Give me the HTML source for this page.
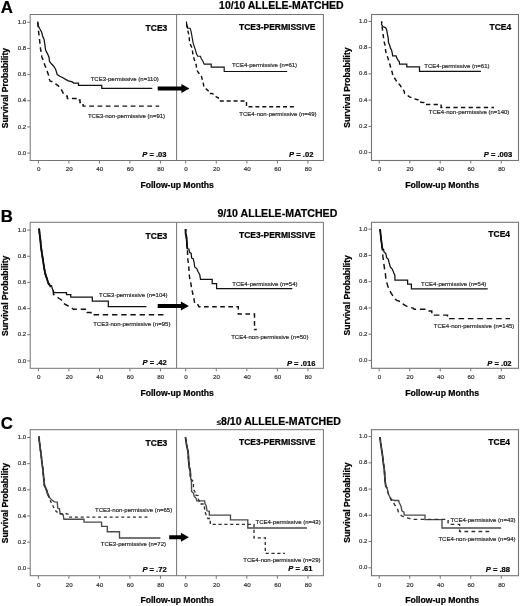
<!DOCTYPE html>
<html><head><meta charset="utf-8"><style>
html,body{margin:0;padding:0;background:#fff;}
svg{display:block;will-change:transform;}
text{font-family:"Liberation Sans", sans-serif;}
</style></head><body>
<svg width="520" height="606" viewBox="0 0 520 606" font-family='"Liberation Sans", sans-serif'>
<rect width="520" height="606" fill="#fff"/>
<rect x="30.2" y="14.50" width="293.2" height="146" fill="none" stroke="#747474" stroke-width="1"/>
<line x1="176.60" y1="14.50" x2="176.60" y2="160.50" stroke="#747474" stroke-width="1"/>
<rect x="371.5" y="14.50" width="147" height="146" fill="none" stroke="#747474" stroke-width="1.1"/>
<line x1="27.20" y1="153.10" x2="30.20" y2="153.10" stroke="#747474" stroke-width="1"/>
<text x="26.20" y="154.70" font-size="6.0" font-weight="normal" text-anchor="end" fill="#333" stroke="#333" stroke-width="0.2">0.0</text>
<line x1="27.20" y1="126.94" x2="30.20" y2="126.94" stroke="#747474" stroke-width="1"/>
<text x="26.20" y="128.54" font-size="6.0" font-weight="normal" text-anchor="end" fill="#333" stroke="#333" stroke-width="0.2">0.2</text>
<line x1="27.20" y1="100.78" x2="30.20" y2="100.78" stroke="#747474" stroke-width="1"/>
<text x="26.20" y="102.38" font-size="6.0" font-weight="normal" text-anchor="end" fill="#333" stroke="#333" stroke-width="0.2">0.4</text>
<line x1="27.20" y1="74.62" x2="30.20" y2="74.62" stroke="#747474" stroke-width="1"/>
<text x="26.20" y="76.22" font-size="6.0" font-weight="normal" text-anchor="end" fill="#333" stroke="#333" stroke-width="0.2">0.6</text>
<line x1="27.20" y1="48.46" x2="30.20" y2="48.46" stroke="#747474" stroke-width="1"/>
<text x="26.20" y="50.06" font-size="6.0" font-weight="normal" text-anchor="end" fill="#333" stroke="#333" stroke-width="0.2">0.8</text>
<line x1="27.20" y1="22.30" x2="30.20" y2="22.30" stroke="#747474" stroke-width="1"/>
<text x="26.20" y="23.90" font-size="6.0" font-weight="normal" text-anchor="end" fill="#333" stroke="#333" stroke-width="0.2">1.0</text>
<line x1="368.50" y1="152.60" x2="371.50" y2="152.60" stroke="#747474" stroke-width="1"/>
<text x="367.40" y="154.20" font-size="6.0" font-weight="normal" text-anchor="end" fill="#333" stroke="#333" stroke-width="0.2">0.0</text>
<line x1="368.50" y1="126.36" x2="371.50" y2="126.36" stroke="#747474" stroke-width="1"/>
<text x="367.40" y="127.96" font-size="6.0" font-weight="normal" text-anchor="end" fill="#333" stroke="#333" stroke-width="0.2">0.2</text>
<line x1="368.50" y1="100.12" x2="371.50" y2="100.12" stroke="#747474" stroke-width="1"/>
<text x="367.40" y="101.72" font-size="6.0" font-weight="normal" text-anchor="end" fill="#333" stroke="#333" stroke-width="0.2">0.4</text>
<line x1="368.50" y1="73.88" x2="371.50" y2="73.88" stroke="#747474" stroke-width="1"/>
<text x="367.40" y="75.48" font-size="6.0" font-weight="normal" text-anchor="end" fill="#333" stroke="#333" stroke-width="0.2">0.6</text>
<line x1="368.50" y1="47.64" x2="371.50" y2="47.64" stroke="#747474" stroke-width="1"/>
<text x="367.40" y="49.24" font-size="6.0" font-weight="normal" text-anchor="end" fill="#333" stroke="#333" stroke-width="0.2">0.8</text>
<line x1="368.50" y1="21.40" x2="371.50" y2="21.40" stroke="#747474" stroke-width="1"/>
<text x="367.40" y="23.00" font-size="6.0" font-weight="normal" text-anchor="end" fill="#333" stroke="#333" stroke-width="0.2">1.0</text>
<line x1="38.40" y1="160.50" x2="38.40" y2="163.50" stroke="#747474" stroke-width="1"/>
<text x="38.70" y="171.30" font-size="6.2" font-weight="normal" text-anchor="middle" fill="#333" stroke="#333" stroke-width="0.2">0</text>
<line x1="68.92" y1="160.50" x2="68.92" y2="163.50" stroke="#747474" stroke-width="1"/>
<text x="69.22" y="171.30" font-size="6.2" font-weight="normal" text-anchor="middle" fill="#333" stroke="#333" stroke-width="0.2">20</text>
<line x1="99.44" y1="160.50" x2="99.44" y2="163.50" stroke="#747474" stroke-width="1"/>
<text x="99.74" y="171.30" font-size="6.2" font-weight="normal" text-anchor="middle" fill="#333" stroke="#333" stroke-width="0.2">40</text>
<line x1="129.96" y1="160.50" x2="129.96" y2="163.50" stroke="#747474" stroke-width="1"/>
<text x="130.26" y="171.30" font-size="6.2" font-weight="normal" text-anchor="middle" fill="#333" stroke="#333" stroke-width="0.2">60</text>
<line x1="160.48" y1="160.50" x2="160.48" y2="163.50" stroke="#747474" stroke-width="1"/>
<text x="160.78" y="171.30" font-size="6.2" font-weight="normal" text-anchor="middle" fill="#333" stroke="#333" stroke-width="0.2">80</text>
<line x1="185.70" y1="160.50" x2="185.70" y2="163.50" stroke="#747474" stroke-width="1"/>
<text x="186.00" y="171.30" font-size="6.2" font-weight="normal" text-anchor="middle" fill="#333" stroke="#333" stroke-width="0.2">0</text>
<line x1="216.27" y1="160.50" x2="216.27" y2="163.50" stroke="#747474" stroke-width="1"/>
<text x="216.57" y="171.30" font-size="6.2" font-weight="normal" text-anchor="middle" fill="#333" stroke="#333" stroke-width="0.2">20</text>
<line x1="246.84" y1="160.50" x2="246.84" y2="163.50" stroke="#747474" stroke-width="1"/>
<text x="247.14" y="171.30" font-size="6.2" font-weight="normal" text-anchor="middle" fill="#333" stroke="#333" stroke-width="0.2">40</text>
<line x1="277.41" y1="160.50" x2="277.41" y2="163.50" stroke="#747474" stroke-width="1"/>
<text x="277.71" y="171.30" font-size="6.2" font-weight="normal" text-anchor="middle" fill="#333" stroke="#333" stroke-width="0.2">60</text>
<line x1="307.98" y1="160.50" x2="307.98" y2="163.50" stroke="#747474" stroke-width="1"/>
<text x="308.28" y="171.30" font-size="6.2" font-weight="normal" text-anchor="middle" fill="#333" stroke="#333" stroke-width="0.2">80</text>
<line x1="379.20" y1="160.50" x2="379.20" y2="163.50" stroke="#747474" stroke-width="1"/>
<text x="379.50" y="171.30" font-size="6.2" font-weight="normal" text-anchor="middle" fill="#333" stroke="#333" stroke-width="0.2">0</text>
<line x1="409.72" y1="160.50" x2="409.72" y2="163.50" stroke="#747474" stroke-width="1"/>
<text x="410.02" y="171.30" font-size="6.2" font-weight="normal" text-anchor="middle" fill="#333" stroke="#333" stroke-width="0.2">20</text>
<line x1="440.24" y1="160.50" x2="440.24" y2="163.50" stroke="#747474" stroke-width="1"/>
<text x="440.54" y="171.30" font-size="6.2" font-weight="normal" text-anchor="middle" fill="#333" stroke="#333" stroke-width="0.2">40</text>
<line x1="470.76" y1="160.50" x2="470.76" y2="163.50" stroke="#747474" stroke-width="1"/>
<text x="471.06" y="171.30" font-size="6.2" font-weight="normal" text-anchor="middle" fill="#333" stroke="#333" stroke-width="0.2">60</text>
<line x1="501.28" y1="160.50" x2="501.28" y2="163.50" stroke="#747474" stroke-width="1"/>
<text x="501.58" y="171.30" font-size="6.2" font-weight="normal" text-anchor="middle" fill="#333" stroke="#333" stroke-width="0.2">80</text>
<text x="140.40" y="188.10" font-size="8.6" font-weight="bold" text-anchor="start" fill="#000" stroke="#000" stroke-width="0.22">Follow-up Months</text>
<text x="405.20" y="187.90" font-size="8.65" font-weight="bold" text-anchor="start" fill="#000" stroke="#000" stroke-width="0.22">Follow-up Months</text>
<text x="0.00" y="0.00" font-size="8.6" font-weight="bold" text-anchor="middle" fill="#000" transform="translate(8.3,88.00) rotate(-90)" stroke="#000" stroke-width="0.22">Survival Probability</text>
<text x="0.00" y="0.00" font-size="8.6" font-weight="bold" text-anchor="middle" fill="#000" transform="translate(350.2,87.50) rotate(-90)" stroke="#000" stroke-width="0.22">Survival Probability</text>
<text x="0.80" y="12.70" font-size="16.8" font-weight="bold" text-anchor="start" fill="#000" stroke="#000" stroke-width="0.22">A</text>
<text x="219.10" y="9.30" font-size="10.47" font-weight="bold" text-anchor="start" fill="#000" stroke="#000" stroke-width="0.22">10/10 ALLELE-MATCHED</text>
<text x="167.30" y="30.80" font-size="8.5" font-weight="bold" text-anchor="end" fill="#000" stroke="#000" stroke-width="0.22">TCE3</text>
<text x="315.50" y="29.90" font-size="8.5" font-weight="bold" text-anchor="end" fill="#000" stroke="#000" stroke-width="0.22">TCE3-PERMISSIVE</text>
<text x="511.20" y="29.60" font-size="8.5" font-weight="bold" text-anchor="end" fill="#000" stroke="#000" stroke-width="0.22">TCE4</text>
<text x="166.50" y="156.80" font-size="7.6" font-weight="bold" text-anchor="end" fill="#000" stroke="#000" stroke-width="0.2"><tspan font-style="italic">P</tspan> = .03</text>
<text x="313.40" y="156.85" font-size="7.6" font-weight="bold" text-anchor="end" fill="#000" stroke="#000" stroke-width="0.2"><tspan font-style="italic">P</tspan> = .02</text>
<text x="512.30" y="157.05" font-size="7.6" font-weight="bold" text-anchor="end" fill="#000" stroke="#000" stroke-width="0.2"><tspan font-style="italic">P</tspan> = .003</text>
<polygon points="157.7,86.4 181.4,86.4 181.4,83.9 189.4,88.4 181.4,92.9 181.4,90.4 157.7,90.4" fill="#000"/>
<polyline points="37.70,21.50 38.20,25.70 39.80,28.80 41.70,32.20 42.50,35.70 44.00,39.20 44.80,44.20 45.60,50.00 47.90,54.60 49.10,57.70 49.50,61.50 51.40,63.80 53.70,66.20 55.60,69.20 56.60,72.30 57.20,74.60 59.80,76.20 62.90,77.70 66.00,79.60 68.50,80.80 72.20,81.90 73.70,83.10 78.50,83.10 78.50,85.40 101.80,85.40 101.80,88.40 152.30,88.40" fill="none" stroke="#111" stroke-width="1.25" stroke-linejoin="miter" stroke-linecap="butt"/>
<polyline points="37.70,21.50 38.20,27.20 38.50,30.70 39.00,35.30 39.40,38.00 40.50,48.80 41.40,53.10 41.80,56.90 42.90,59.60 44.10,63.10 45.20,66.20 46.80,69.20 47.50,72.30 48.70,75.40 49.10,78.80 50.20,81.20 51.80,81.50 53.30,82.70 56.00,84.20 58.30,85.80 60.60,88.50 62.50,91.50 63.50,94.20 65.40,95.80 67.30,96.20 67.30,98.50 77.70,98.50 77.70,100.00 80.00,100.00 80.00,102.50 83.10,102.50 83.10,106.10 159.20,106.10" fill="none" stroke="#111" stroke-width="1.45" stroke-linejoin="miter" stroke-linecap="butt" stroke-dasharray="4.8 3.5" stroke-dashoffset="7.33"/>
<text x="90.70" y="80.70" font-size="6.0" font-weight="normal" text-anchor="start" fill="#222" stroke="#2a2a2a" stroke-width="0.18">TCE3-permissive (n=110)</text>
<text x="87.90" y="117.80" font-size="6.0" font-weight="normal" text-anchor="start" fill="#222" stroke="#2a2a2a" stroke-width="0.18">TCE3-non-permissive (n=91)</text>
<polyline points="186.50,21.50 186.60,25.30 187.60,26.50 187.60,28.20 190.10,28.20 190.80,30.30 191.60,34.20 192.40,38.80 193.20,43.40 194.30,46.50 195.40,50.00 196.50,53.80 197.70,56.20 200.40,56.20 201.20,58.50 202.70,60.80 204.20,64.20 211.20,64.20 211.20,67.10 224.20,67.10 224.20,71.50 287.20,71.50" fill="none" stroke="#111" stroke-width="1.15" stroke-linejoin="miter" stroke-linecap="butt"/>
<polyline points="186.50,21.50 187.00,28.00 187.80,30.30 188.50,33.40 189.30,36.00 189.30,39.50 189.70,42.60 190.50,44.90 192.00,47.60 192.40,50.30 192.80,53.80 193.50,56.10 194.20,59.60 195.40,61.90 196.20,65.00 196.50,67.70 197.30,70.80 198.50,72.70 200.40,74.60 201.50,76.50 202.30,79.60 203.10,81.50 203.60,85.30 204.50,87.70 206.30,89.10 208.20,90.60 209.10,93.50 212.00,93.50 214.40,94.90 216.30,96.80 218.30,97.80 219.20,101.00 246.50,101.00 246.50,106.80 294.60,106.80" fill="none" stroke="#111" stroke-width="1.4" stroke-linejoin="miter" stroke-linecap="butt" stroke-dasharray="4.0 2.9" stroke-dashoffset="4.61"/>
<text x="231.90" y="67.00" font-size="6.0" font-weight="normal" text-anchor="start" fill="#222" stroke="#2a2a2a" stroke-width="0.18">TCE4-permissive (n=61)</text>
<text x="239.30" y="116.10" font-size="6.0" font-weight="normal" text-anchor="start" fill="#222" stroke="#2a2a2a" stroke-width="0.18">TCE4-non-permissive (n=49)</text>
<polyline points="381.60,21.50 381.60,24.50 383.20,26.80 385.50,27.60 386.60,29.50 387.40,34.20 388.20,38.00 388.50,42.60 389.70,45.30 390.50,48.40 391.60,50.30 392.40,53.80 392.60,55.80 396.10,55.80 396.80,58.10 398.40,60.80 399.30,61.50 399.50,64.20 406.80,64.20 406.80,66.90 419.50,66.90 419.50,71.30 480.90,71.30" fill="none" stroke="#111" stroke-width="1.25" stroke-linejoin="miter" stroke-linecap="butt"/>
<polyline points="381.60,21.50 382.40,29.20 382.80,32.20 383.20,35.30 383.90,40.30 384.30,42.60 385.50,46.50 385.50,49.90 386.20,53.40 387.20,55.80 388.40,59.60 389.20,62.70 390.30,65.80 390.70,68.50 392.20,72.30 392.60,74.60 393.40,76.90 394.90,78.50 396.80,81.50 398.00,83.10 400.30,85.40 401.50,87.70 404.10,91.10 404.60,93.50 407.00,94.90 409.40,96.80 411.80,97.80 414.20,98.80 417.60,99.70 420.50,100.00 420.90,102.30 423.80,102.60 424.20,104.50 441.10,104.50 441.10,107.50 494.00,107.50" fill="none" stroke="#111" stroke-width="1.45" stroke-linejoin="miter" stroke-linecap="butt" stroke-dasharray="4.3 3.3" stroke-dashoffset="2.63"/>
<text x="424.30" y="67.80" font-size="6.0" font-weight="normal" text-anchor="start" fill="#222" stroke="#2a2a2a" stroke-width="0.18">TCE4-permissive (n=61)</text>
<text x="428.80" y="114.45" font-size="6.0" font-weight="normal" text-anchor="start" fill="#222" stroke="#2a2a2a" stroke-width="0.18">TCE4-non-permissive (n=140)</text>
<rect x="30.2" y="222.30" width="293.2" height="146" fill="none" stroke="#747474" stroke-width="1"/>
<line x1="176.60" y1="222.30" x2="176.60" y2="368.30" stroke="#747474" stroke-width="1"/>
<rect x="371.5" y="222.30" width="147" height="146" fill="none" stroke="#747474" stroke-width="1.1"/>
<line x1="27.20" y1="360.90" x2="30.20" y2="360.90" stroke="#747474" stroke-width="1"/>
<text x="26.20" y="362.50" font-size="6.0" font-weight="normal" text-anchor="end" fill="#333" stroke="#333" stroke-width="0.2">0.0</text>
<line x1="27.20" y1="334.74" x2="30.20" y2="334.74" stroke="#747474" stroke-width="1"/>
<text x="26.20" y="336.34" font-size="6.0" font-weight="normal" text-anchor="end" fill="#333" stroke="#333" stroke-width="0.2">0.2</text>
<line x1="27.20" y1="308.58" x2="30.20" y2="308.58" stroke="#747474" stroke-width="1"/>
<text x="26.20" y="310.18" font-size="6.0" font-weight="normal" text-anchor="end" fill="#333" stroke="#333" stroke-width="0.2">0.4</text>
<line x1="27.20" y1="282.42" x2="30.20" y2="282.42" stroke="#747474" stroke-width="1"/>
<text x="26.20" y="284.02" font-size="6.0" font-weight="normal" text-anchor="end" fill="#333" stroke="#333" stroke-width="0.2">0.6</text>
<line x1="27.20" y1="256.26" x2="30.20" y2="256.26" stroke="#747474" stroke-width="1"/>
<text x="26.20" y="257.86" font-size="6.0" font-weight="normal" text-anchor="end" fill="#333" stroke="#333" stroke-width="0.2">0.8</text>
<line x1="27.20" y1="230.10" x2="30.20" y2="230.10" stroke="#747474" stroke-width="1"/>
<text x="26.20" y="231.70" font-size="6.0" font-weight="normal" text-anchor="end" fill="#333" stroke="#333" stroke-width="0.2">1.0</text>
<line x1="368.50" y1="360.40" x2="371.50" y2="360.40" stroke="#747474" stroke-width="1"/>
<text x="367.40" y="362.00" font-size="6.0" font-weight="normal" text-anchor="end" fill="#333" stroke="#333" stroke-width="0.2">0.0</text>
<line x1="368.50" y1="334.16" x2="371.50" y2="334.16" stroke="#747474" stroke-width="1"/>
<text x="367.40" y="335.76" font-size="6.0" font-weight="normal" text-anchor="end" fill="#333" stroke="#333" stroke-width="0.2">0.2</text>
<line x1="368.50" y1="307.92" x2="371.50" y2="307.92" stroke="#747474" stroke-width="1"/>
<text x="367.40" y="309.52" font-size="6.0" font-weight="normal" text-anchor="end" fill="#333" stroke="#333" stroke-width="0.2">0.4</text>
<line x1="368.50" y1="281.68" x2="371.50" y2="281.68" stroke="#747474" stroke-width="1"/>
<text x="367.40" y="283.28" font-size="6.0" font-weight="normal" text-anchor="end" fill="#333" stroke="#333" stroke-width="0.2">0.6</text>
<line x1="368.50" y1="255.44" x2="371.50" y2="255.44" stroke="#747474" stroke-width="1"/>
<text x="367.40" y="257.04" font-size="6.0" font-weight="normal" text-anchor="end" fill="#333" stroke="#333" stroke-width="0.2">0.8</text>
<line x1="368.50" y1="229.20" x2="371.50" y2="229.20" stroke="#747474" stroke-width="1"/>
<text x="367.40" y="230.80" font-size="6.0" font-weight="normal" text-anchor="end" fill="#333" stroke="#333" stroke-width="0.2">1.0</text>
<line x1="38.40" y1="368.30" x2="38.40" y2="371.30" stroke="#747474" stroke-width="1"/>
<text x="38.70" y="379.10" font-size="6.2" font-weight="normal" text-anchor="middle" fill="#333" stroke="#333" stroke-width="0.2">0</text>
<line x1="68.92" y1="368.30" x2="68.92" y2="371.30" stroke="#747474" stroke-width="1"/>
<text x="69.22" y="379.10" font-size="6.2" font-weight="normal" text-anchor="middle" fill="#333" stroke="#333" stroke-width="0.2">20</text>
<line x1="99.44" y1="368.30" x2="99.44" y2="371.30" stroke="#747474" stroke-width="1"/>
<text x="99.74" y="379.10" font-size="6.2" font-weight="normal" text-anchor="middle" fill="#333" stroke="#333" stroke-width="0.2">40</text>
<line x1="129.96" y1="368.30" x2="129.96" y2="371.30" stroke="#747474" stroke-width="1"/>
<text x="130.26" y="379.10" font-size="6.2" font-weight="normal" text-anchor="middle" fill="#333" stroke="#333" stroke-width="0.2">60</text>
<line x1="160.48" y1="368.30" x2="160.48" y2="371.30" stroke="#747474" stroke-width="1"/>
<text x="160.78" y="379.10" font-size="6.2" font-weight="normal" text-anchor="middle" fill="#333" stroke="#333" stroke-width="0.2">80</text>
<line x1="185.70" y1="368.30" x2="185.70" y2="371.30" stroke="#747474" stroke-width="1"/>
<text x="186.00" y="379.10" font-size="6.2" font-weight="normal" text-anchor="middle" fill="#333" stroke="#333" stroke-width="0.2">0</text>
<line x1="216.27" y1="368.30" x2="216.27" y2="371.30" stroke="#747474" stroke-width="1"/>
<text x="216.57" y="379.10" font-size="6.2" font-weight="normal" text-anchor="middle" fill="#333" stroke="#333" stroke-width="0.2">20</text>
<line x1="246.84" y1="368.30" x2="246.84" y2="371.30" stroke="#747474" stroke-width="1"/>
<text x="247.14" y="379.10" font-size="6.2" font-weight="normal" text-anchor="middle" fill="#333" stroke="#333" stroke-width="0.2">40</text>
<line x1="277.41" y1="368.30" x2="277.41" y2="371.30" stroke="#747474" stroke-width="1"/>
<text x="277.71" y="379.10" font-size="6.2" font-weight="normal" text-anchor="middle" fill="#333" stroke="#333" stroke-width="0.2">60</text>
<line x1="307.98" y1="368.30" x2="307.98" y2="371.30" stroke="#747474" stroke-width="1"/>
<text x="308.28" y="379.10" font-size="6.2" font-weight="normal" text-anchor="middle" fill="#333" stroke="#333" stroke-width="0.2">80</text>
<line x1="379.20" y1="368.30" x2="379.20" y2="371.30" stroke="#747474" stroke-width="1"/>
<text x="379.50" y="379.10" font-size="6.2" font-weight="normal" text-anchor="middle" fill="#333" stroke="#333" stroke-width="0.2">0</text>
<line x1="409.72" y1="368.30" x2="409.72" y2="371.30" stroke="#747474" stroke-width="1"/>
<text x="410.02" y="379.10" font-size="6.2" font-weight="normal" text-anchor="middle" fill="#333" stroke="#333" stroke-width="0.2">20</text>
<line x1="440.24" y1="368.30" x2="440.24" y2="371.30" stroke="#747474" stroke-width="1"/>
<text x="440.54" y="379.10" font-size="6.2" font-weight="normal" text-anchor="middle" fill="#333" stroke="#333" stroke-width="0.2">40</text>
<line x1="470.76" y1="368.30" x2="470.76" y2="371.30" stroke="#747474" stroke-width="1"/>
<text x="471.06" y="379.10" font-size="6.2" font-weight="normal" text-anchor="middle" fill="#333" stroke="#333" stroke-width="0.2">60</text>
<line x1="501.28" y1="368.30" x2="501.28" y2="371.30" stroke="#747474" stroke-width="1"/>
<text x="501.58" y="379.10" font-size="6.2" font-weight="normal" text-anchor="middle" fill="#333" stroke="#333" stroke-width="0.2">80</text>
<text x="140.40" y="395.90" font-size="8.6" font-weight="bold" text-anchor="start" fill="#000" stroke="#000" stroke-width="0.22">Follow-up Months</text>
<text x="405.20" y="395.70" font-size="8.65" font-weight="bold" text-anchor="start" fill="#000" stroke="#000" stroke-width="0.22">Follow-up Months</text>
<text x="0.00" y="0.00" font-size="8.6" font-weight="bold" text-anchor="middle" fill="#000" transform="translate(8.3,295.80) rotate(-90)" stroke="#000" stroke-width="0.22">Survival Probability</text>
<text x="0.00" y="0.00" font-size="8.6" font-weight="bold" text-anchor="middle" fill="#000" transform="translate(350.2,295.30) rotate(-90)" stroke="#000" stroke-width="0.22">Survival Probability</text>
<text x="0.80" y="221.80" font-size="16.8" font-weight="bold" text-anchor="start" fill="#000" stroke="#000" stroke-width="0.22">B</text>
<text x="217.40" y="217.10" font-size="10.58" font-weight="bold" text-anchor="start" fill="#000" stroke="#000" stroke-width="0.22">9/10 ALLELE-MATCHED</text>
<text x="167.30" y="238.60" font-size="8.5" font-weight="bold" text-anchor="end" fill="#000" stroke="#000" stroke-width="0.22">TCE3</text>
<text x="315.50" y="237.70" font-size="8.5" font-weight="bold" text-anchor="end" fill="#000" stroke="#000" stroke-width="0.22">TCE3-PERMISSIVE</text>
<text x="510.10" y="237.40" font-size="8.5" font-weight="bold" text-anchor="end" fill="#000" stroke="#000" stroke-width="0.22">TCE4</text>
<text x="166.80" y="365.40" font-size="7.6" font-weight="bold" text-anchor="end" fill="#000" stroke="#000" stroke-width="0.2"><tspan font-style="italic">P</tspan> = .42</text>
<text x="315.40" y="366.10" font-size="7.6" font-weight="bold" text-anchor="end" fill="#000" stroke="#000" stroke-width="0.2"><tspan font-style="italic">P</tspan> = .016</text>
<text x="511.60" y="366.40" font-size="7.6" font-weight="bold" text-anchor="end" fill="#000" stroke="#000" stroke-width="0.2"><tspan font-style="italic">P</tspan> = .02</text>
<polygon points="157.7,303.9 180.9,303.9 180.9,301.4 188.9,305.9 180.9,310.4 180.9,307.9 157.7,307.9" fill="#000"/>
<polyline points="39.10,228.60 39.60,233.90 40.30,239.20 40.90,245.80 41.60,251.10 42.60,257.70 43.60,264.30 44.30,268.60 45.30,273.90 46.60,277.80 48.30,283.10 49.60,285.10" fill="none" stroke="#111" stroke-width="1.9" stroke-linejoin="miter" stroke-linecap="butt"/>
<polyline points="39.10,228.60 39.60,233.90 40.30,239.20 40.90,245.80 41.60,251.10 42.60,257.70 43.60,264.30 44.30,268.60 45.30,273.90 46.60,277.80 48.30,283.10 49.60,285.10 51.60,285.80 52.20,288.40 53.20,290.40 53.90,292.50 66.50,292.50 66.50,294.70 70.80,294.70 70.80,297.10 92.30,297.10 92.30,301.10 108.30,301.10 108.30,306.60 146.40,306.60" fill="none" stroke="#111" stroke-width="1.25" stroke-linejoin="miter" stroke-linecap="butt"/>
<polyline points="39.10,228.60 39.60,233.90 40.30,239.20 40.90,245.80 41.60,251.10 42.60,257.70 43.60,264.30 44.30,268.60 45.30,273.90 46.60,277.80 48.30,283.10 49.60,285.10 50.60,287.70 53.20,291.00 53.50,294.30 55.80,296.30 59.20,298.50 62.30,300.50 63.80,303.50 67.30,305.50 70.40,307.00 73.50,309.30 87.30,309.30 87.30,312.40 91.00,312.40 91.00,314.80 166.50,314.80" fill="none" stroke="#111" stroke-width="1.45" stroke-linejoin="miter" stroke-linecap="butt" stroke-dasharray="5.4 3.8" stroke-dashoffset="0.42"/>
<text x="99.10" y="297.25" font-size="6.0" font-weight="normal" text-anchor="start" fill="#222" stroke="#2a2a2a" stroke-width="0.18">TCE3-permissive (n=104)</text>
<text x="93.20" y="325.60" font-size="6.0" font-weight="normal" text-anchor="start" fill="#222" stroke="#2a2a2a" stroke-width="0.18">TCE3-non-permissive (n=95)</text>
<polyline points="185.60,229.00 185.60,233.90 186.30,235.90 186.80,241.20 187.30,248.80" fill="none" stroke="#111" stroke-width="1.8" stroke-linejoin="miter" stroke-linecap="butt"/>
<polyline points="185.60,229.00 185.60,233.90 186.30,235.90 186.80,241.20 187.30,248.80 188.90,249.10 189.60,252.40 191.20,253.40 191.60,258.00 193.20,258.70 194.20,263.00 194.70,267.00 196.80,268.60 198.00,271.50 199.70,274.40 200.50,279.40 212.20,279.40 212.20,283.50 216.60,283.50 216.60,288.60 292.30,288.60" fill="none" stroke="#111" stroke-width="1.25" stroke-linejoin="miter" stroke-linecap="butt"/>
<polyline points="185.60,229.00 185.60,233.90 186.30,235.90 186.80,241.20 187.30,248.80 187.60,253.70 187.90,260.30 188.60,264.60 189.00,270.30 189.40,276.00 189.80,279.30 190.60,281.80 191.40,286.80 191.80,289.20 192.70,293.40 193.10,295.80 193.90,298.30 194.30,301.20 194.70,303.30 196.50,303.50 198.00,304.90 198.90,306.80 238.30,306.80 238.30,314.00 254.50,314.00 254.50,329.50 256.80,329.50" fill="none" stroke="#111" stroke-width="1.45" stroke-linejoin="miter" stroke-linecap="butt" stroke-dasharray="4.7 3.4" stroke-dashoffset="2.91"/>
<text x="232.30" y="286.40" font-size="6.0" font-weight="normal" text-anchor="start" fill="#222" stroke="#2a2a2a" stroke-width="0.18">TCE4-permissive (n=54)</text>
<text x="231.20" y="338.85" font-size="6.0" font-weight="normal" text-anchor="start" fill="#222" stroke="#2a2a2a" stroke-width="0.18">TCE4-non-permissive (n=50)</text>
<polyline points="380.10,229.00 380.60,234.60 381.30,240.50 382.30,248.40" fill="none" stroke="#111" stroke-width="1.8" stroke-linejoin="miter" stroke-linecap="butt"/>
<polyline points="380.10,229.00 380.60,234.60 381.30,240.50 382.30,248.40 383.60,249.40 383.90,251.70 385.90,253.70 386.60,257.70 388.20,259.00 389.20,263.00 390.30,267.00 392.40,269.40 394.00,273.60 394.90,275.20 394.90,280.20 407.60,280.20 407.60,284.10 411.40,284.10 411.40,288.90 487.70,288.90" fill="none" stroke="#111" stroke-width="1.25" stroke-linejoin="miter" stroke-linecap="butt"/>
<polyline points="380.10,229.00 380.60,234.60 381.30,240.50 382.30,248.40 382.90,256.40 383.60,262.00 384.50,268.60 385.40,273.60 385.80,278.50 386.60,281.80 387.80,285.90 389.10,289.20 390.70,292.50 392.40,295.00 394.00,298.30 396.90,300.40 401.50,302.00 403.50,304.50 406.40,306.20 410.30,307.40 413.20,308.10 414.10,309.30 427.60,309.30 429.00,311.00 431.80,311.00 431.80,315.10 447.50,315.10 447.50,318.60 510.00,318.60" fill="none" stroke="#111" stroke-width="1.45" stroke-linejoin="miter" stroke-linecap="butt" stroke-dasharray="5.6 3.8" stroke-dashoffset="2.60"/>
<text x="421.10" y="286.35" font-size="6.0" font-weight="normal" text-anchor="start" fill="#222" stroke="#2a2a2a" stroke-width="0.18">TCE4-permissive (n=54)</text>
<text x="433.80" y="327.65" font-size="6.0" font-weight="normal" text-anchor="start" fill="#222" stroke="#2a2a2a" stroke-width="0.18">TCE4-non-permissive (n=145)</text>
<rect x="30.2" y="429.70" width="293.2" height="146" fill="none" stroke="#747474" stroke-width="1"/>
<line x1="176.60" y1="429.70" x2="176.60" y2="575.70" stroke="#747474" stroke-width="1"/>
<rect x="371.5" y="429.70" width="147" height="146" fill="none" stroke="#747474" stroke-width="1.1"/>
<line x1="27.20" y1="568.30" x2="30.20" y2="568.30" stroke="#747474" stroke-width="1"/>
<text x="26.20" y="569.90" font-size="6.0" font-weight="normal" text-anchor="end" fill="#333" stroke="#333" stroke-width="0.2">0.0</text>
<line x1="27.20" y1="542.14" x2="30.20" y2="542.14" stroke="#747474" stroke-width="1"/>
<text x="26.20" y="543.74" font-size="6.0" font-weight="normal" text-anchor="end" fill="#333" stroke="#333" stroke-width="0.2">0.2</text>
<line x1="27.20" y1="515.98" x2="30.20" y2="515.98" stroke="#747474" stroke-width="1"/>
<text x="26.20" y="517.58" font-size="6.0" font-weight="normal" text-anchor="end" fill="#333" stroke="#333" stroke-width="0.2">0.4</text>
<line x1="27.20" y1="489.82" x2="30.20" y2="489.82" stroke="#747474" stroke-width="1"/>
<text x="26.20" y="491.42" font-size="6.0" font-weight="normal" text-anchor="end" fill="#333" stroke="#333" stroke-width="0.2">0.6</text>
<line x1="27.20" y1="463.66" x2="30.20" y2="463.66" stroke="#747474" stroke-width="1"/>
<text x="26.20" y="465.26" font-size="6.0" font-weight="normal" text-anchor="end" fill="#333" stroke="#333" stroke-width="0.2">0.8</text>
<line x1="27.20" y1="437.50" x2="30.20" y2="437.50" stroke="#747474" stroke-width="1"/>
<text x="26.20" y="439.10" font-size="6.0" font-weight="normal" text-anchor="end" fill="#333" stroke="#333" stroke-width="0.2">1.0</text>
<line x1="368.50" y1="567.80" x2="371.50" y2="567.80" stroke="#747474" stroke-width="1"/>
<text x="367.40" y="569.40" font-size="6.0" font-weight="normal" text-anchor="end" fill="#333" stroke="#333" stroke-width="0.2">0.0</text>
<line x1="368.50" y1="541.56" x2="371.50" y2="541.56" stroke="#747474" stroke-width="1"/>
<text x="367.40" y="543.16" font-size="6.0" font-weight="normal" text-anchor="end" fill="#333" stroke="#333" stroke-width="0.2">0.2</text>
<line x1="368.50" y1="515.32" x2="371.50" y2="515.32" stroke="#747474" stroke-width="1"/>
<text x="367.40" y="516.92" font-size="6.0" font-weight="normal" text-anchor="end" fill="#333" stroke="#333" stroke-width="0.2">0.4</text>
<line x1="368.50" y1="489.08" x2="371.50" y2="489.08" stroke="#747474" stroke-width="1"/>
<text x="367.40" y="490.68" font-size="6.0" font-weight="normal" text-anchor="end" fill="#333" stroke="#333" stroke-width="0.2">0.6</text>
<line x1="368.50" y1="462.84" x2="371.50" y2="462.84" stroke="#747474" stroke-width="1"/>
<text x="367.40" y="464.44" font-size="6.0" font-weight="normal" text-anchor="end" fill="#333" stroke="#333" stroke-width="0.2">0.8</text>
<line x1="368.50" y1="436.60" x2="371.50" y2="436.60" stroke="#747474" stroke-width="1"/>
<text x="367.40" y="438.20" font-size="6.0" font-weight="normal" text-anchor="end" fill="#333" stroke="#333" stroke-width="0.2">1.0</text>
<line x1="38.40" y1="575.70" x2="38.40" y2="578.70" stroke="#747474" stroke-width="1"/>
<text x="38.70" y="586.50" font-size="6.2" font-weight="normal" text-anchor="middle" fill="#333" stroke="#333" stroke-width="0.2">0</text>
<line x1="68.92" y1="575.70" x2="68.92" y2="578.70" stroke="#747474" stroke-width="1"/>
<text x="69.22" y="586.50" font-size="6.2" font-weight="normal" text-anchor="middle" fill="#333" stroke="#333" stroke-width="0.2">20</text>
<line x1="99.44" y1="575.70" x2="99.44" y2="578.70" stroke="#747474" stroke-width="1"/>
<text x="99.74" y="586.50" font-size="6.2" font-weight="normal" text-anchor="middle" fill="#333" stroke="#333" stroke-width="0.2">40</text>
<line x1="129.96" y1="575.70" x2="129.96" y2="578.70" stroke="#747474" stroke-width="1"/>
<text x="130.26" y="586.50" font-size="6.2" font-weight="normal" text-anchor="middle" fill="#333" stroke="#333" stroke-width="0.2">60</text>
<line x1="160.48" y1="575.70" x2="160.48" y2="578.70" stroke="#747474" stroke-width="1"/>
<text x="160.78" y="586.50" font-size="6.2" font-weight="normal" text-anchor="middle" fill="#333" stroke="#333" stroke-width="0.2">80</text>
<line x1="185.70" y1="575.70" x2="185.70" y2="578.70" stroke="#747474" stroke-width="1"/>
<text x="186.00" y="586.50" font-size="6.2" font-weight="normal" text-anchor="middle" fill="#333" stroke="#333" stroke-width="0.2">0</text>
<line x1="216.27" y1="575.70" x2="216.27" y2="578.70" stroke="#747474" stroke-width="1"/>
<text x="216.57" y="586.50" font-size="6.2" font-weight="normal" text-anchor="middle" fill="#333" stroke="#333" stroke-width="0.2">20</text>
<line x1="246.84" y1="575.70" x2="246.84" y2="578.70" stroke="#747474" stroke-width="1"/>
<text x="247.14" y="586.50" font-size="6.2" font-weight="normal" text-anchor="middle" fill="#333" stroke="#333" stroke-width="0.2">40</text>
<line x1="277.41" y1="575.70" x2="277.41" y2="578.70" stroke="#747474" stroke-width="1"/>
<text x="277.71" y="586.50" font-size="6.2" font-weight="normal" text-anchor="middle" fill="#333" stroke="#333" stroke-width="0.2">60</text>
<line x1="307.98" y1="575.70" x2="307.98" y2="578.70" stroke="#747474" stroke-width="1"/>
<text x="308.28" y="586.50" font-size="6.2" font-weight="normal" text-anchor="middle" fill="#333" stroke="#333" stroke-width="0.2">80</text>
<line x1="379.20" y1="575.70" x2="379.20" y2="578.70" stroke="#747474" stroke-width="1"/>
<text x="379.50" y="586.50" font-size="6.2" font-weight="normal" text-anchor="middle" fill="#333" stroke="#333" stroke-width="0.2">0</text>
<line x1="409.72" y1="575.70" x2="409.72" y2="578.70" stroke="#747474" stroke-width="1"/>
<text x="410.02" y="586.50" font-size="6.2" font-weight="normal" text-anchor="middle" fill="#333" stroke="#333" stroke-width="0.2">20</text>
<line x1="440.24" y1="575.70" x2="440.24" y2="578.70" stroke="#747474" stroke-width="1"/>
<text x="440.54" y="586.50" font-size="6.2" font-weight="normal" text-anchor="middle" fill="#333" stroke="#333" stroke-width="0.2">40</text>
<line x1="470.76" y1="575.70" x2="470.76" y2="578.70" stroke="#747474" stroke-width="1"/>
<text x="471.06" y="586.50" font-size="6.2" font-weight="normal" text-anchor="middle" fill="#333" stroke="#333" stroke-width="0.2">60</text>
<line x1="501.28" y1="575.70" x2="501.28" y2="578.70" stroke="#747474" stroke-width="1"/>
<text x="501.58" y="586.50" font-size="6.2" font-weight="normal" text-anchor="middle" fill="#333" stroke="#333" stroke-width="0.2">80</text>
<text x="140.40" y="603.30" font-size="8.6" font-weight="bold" text-anchor="start" fill="#000" stroke="#000" stroke-width="0.22">Follow-up Months</text>
<text x="405.20" y="603.10" font-size="8.65" font-weight="bold" text-anchor="start" fill="#000" stroke="#000" stroke-width="0.22">Follow-up Months</text>
<text x="0.00" y="0.00" font-size="8.6" font-weight="bold" text-anchor="middle" fill="#000" transform="translate(8.3,503.20) rotate(-90)" stroke="#000" stroke-width="0.22">Survival Probability</text>
<text x="0.00" y="0.00" font-size="8.6" font-weight="bold" text-anchor="middle" fill="#000" transform="translate(350.2,502.70) rotate(-90)" stroke="#000" stroke-width="0.22">Survival Probability</text>
<text x="0.80" y="428.70" font-size="16.8" font-weight="bold" text-anchor="start" fill="#000" stroke="#000" stroke-width="0.22">C</text>
<text x="216.80" y="424.50" font-size="10.58" font-weight="bold" text-anchor="start" fill="#000" stroke="#000" stroke-width="0.22"><tspan font-weight="bold" font-size="7.7" fill="#333">≤</tspan>8/10 ALLELE-MATCHED</text>
<text x="167.30" y="446.00" font-size="8.5" font-weight="bold" text-anchor="end" fill="#000" stroke="#000" stroke-width="0.22">TCE3</text>
<text x="315.50" y="445.10" font-size="8.5" font-weight="bold" text-anchor="end" fill="#000" stroke="#000" stroke-width="0.22">TCE3-PERMISSIVE</text>
<text x="510.10" y="444.80" font-size="8.5" font-weight="bold" text-anchor="end" fill="#000" stroke="#000" stroke-width="0.22">TCE4</text>
<text x="166.70" y="572.20" font-size="7.6" font-weight="bold" text-anchor="end" fill="#000" stroke="#000" stroke-width="0.2"><tspan font-style="italic">P</tspan> = .72</text>
<text x="312.50" y="571.40" font-size="7.6" font-weight="bold" text-anchor="end" fill="#000" stroke="#000" stroke-width="0.2"><tspan font-style="italic">P</tspan> = .61</text>
<text x="510.00" y="572.20" font-size="7.6" font-weight="bold" text-anchor="end" fill="#000" stroke="#000" stroke-width="0.2"><tspan font-style="italic">P</tspan> = .88</text>
<polygon points="169.2,535.2 180.9,535.2 180.9,532.7 188.9,537.2 180.9,541.7 180.9,539.2 169.2,539.2" fill="#000"/>
<polyline points="39.00,436.30 39.30,440.90 40.30,448.80 41.30,456.10 41.90,462.70 42.90,469.30 43.70,478.30 44.50,485.70 46.20,489.00 47.40,493.10 49.10,497.20" fill="none" stroke="#222" stroke-width="1.7" stroke-linejoin="miter" stroke-linecap="butt"/>
<polyline points="39.00,436.30 39.30,440.90 40.30,448.80 41.30,456.10 41.90,462.70 42.90,469.30 43.70,478.30 44.50,485.70 46.20,489.00 47.40,493.10 49.10,497.20 51.60,499.70 54.40,501.80 57.30,502.20 57.70,508.00 59.40,508.80 60.20,513.70 63.10,514.60 63.90,519.20 84.00,519.20 84.00,522.10 101.60,522.10 101.60,526.40 107.30,526.40 107.30,531.70 119.50,531.70 119.50,538.00 160.40,538.00" fill="none" stroke="#4a4a4a" stroke-width="1.35" stroke-linejoin="miter" stroke-linecap="butt"/>
<polyline points="39.00,436.30 39.30,440.90 40.30,448.80 41.30,456.10 41.90,462.70 42.90,469.30 43.70,478.30 44.50,485.70 46.20,489.00 47.40,493.10 49.10,497.20 50.50,501.00 52.40,504.70 53.50,507.00 55.30,510.40 57.50,512.50 58.50,513.70 66.40,513.70 68.50,514.50 69.00,517.10 147.70,517.10" fill="none" stroke="#303030" stroke-width="1.35" stroke-linejoin="miter" stroke-linecap="butt" stroke-dasharray="3.0 2.8" stroke-dashoffset="4.35"/>
<text x="95.00" y="511.75" font-size="6.0" font-weight="normal" text-anchor="start" fill="#222" stroke="#2a2a2a" stroke-width="0.18">TCE3-non-permissive (n=65)</text>
<text x="100.80" y="546.15" font-size="6.0" font-weight="normal" text-anchor="start" fill="#222" stroke="#2a2a2a" stroke-width="0.18">TCE3-permissive (n=72)</text>
<polyline points="185.40,437.00 186.00,440.90 186.60,444.90 187.60,449.50 188.30,454.10 188.60,460.70 189.30,467.30 190.30,471.30 190.50,476.60" fill="none" stroke="#222" stroke-width="1.7" stroke-linejoin="miter" stroke-linecap="butt"/>
<polyline points="185.40,437.00 186.00,440.90 186.60,444.90 187.60,449.50 188.30,454.10 188.60,460.70 189.30,467.30 190.30,471.30 190.50,476.60 191.40,481.60 191.60,491.50 193.40,493.10 194.30,496.40 196.30,498.50 196.70,500.90 204.60,500.90 205.00,503.80 206.20,505.50 207.00,510.80 209.30,511.30 209.30,515.10 230.50,515.10 230.50,519.90 247.80,519.90 247.80,528.00 307.00,528.00" fill="none" stroke="#4a4a4a" stroke-width="1.35" stroke-linejoin="miter" stroke-linecap="butt"/>
<polyline points="185.40,437.00 186.00,440.90 186.60,444.90 187.60,449.50 188.30,454.10 188.60,460.70 189.30,467.30 190.30,471.30 190.50,476.60 191.40,479.50 193.60,482.00 193.30,489.00 195.00,492.00 195.30,495.20 198.00,495.50 198.40,499.00 200.40,504.00 204.00,504.00 204.60,508.80 205.40,512.90 206.40,515.50 207.90,518.50 210.30,518.50 210.30,524.40 254.00,524.40 254.00,537.80 265.30,537.80 265.30,553.30 285.00,553.30" fill="none" stroke="#303030" stroke-width="1.35" stroke-linejoin="miter" stroke-linecap="butt" stroke-dasharray="3.2 2.65" stroke-dashoffset="4.26"/>
<text x="255.50" y="524.40" font-size="6.0" font-weight="normal" text-anchor="start" fill="#222" stroke="#2a2a2a" stroke-width="0.18">TCE4-permissive (n=43)</text>
<text x="243.30" y="561.55" font-size="6.0" font-weight="normal" text-anchor="start" fill="#222" stroke="#2a2a2a" stroke-width="0.18">TCE4-non-permissive (n=29)</text>
<polyline points="380.00,437.00 380.60,442.90 381.60,449.50 382.60,456.10 383.30,462.70 384.30,469.30 385.00,479.90 385.80,486.50" fill="none" stroke="#222" stroke-width="1.7" stroke-linejoin="miter" stroke-linecap="butt"/>
<polyline points="380.00,437.00 380.60,442.90 381.60,449.50 382.60,456.10 383.30,462.70 384.30,469.30 385.00,479.90 385.80,486.50 387.40,489.00 388.30,493.90 389.90,497.20 391.60,499.70 394.40,500.50 398.60,500.50 399.40,503.00 401.00,506.30 401.90,510.80 403.90,512.10 404.30,515.10 425.00,515.10 425.00,519.60 442.00,519.60 442.00,528.00 501.20,528.00" fill="none" stroke="#4a4a4a" stroke-width="1.35" stroke-linejoin="miter" stroke-linecap="butt"/>
<polyline points="380.00,437.00 380.60,442.90 381.60,449.50 382.60,456.10 383.30,462.70 384.30,469.30 385.00,479.90 385.80,486.50 387.80,488.20 387.60,491.50 388.70,494.80 390.30,498.10 391.10,500.10 393.20,500.90 394.00,503.40 394.90,505.10 396.50,508.00 397.70,509.60 398.60,512.50 399.80,514.10 401.50,515.80 404.30,517.00 406.40,517.70 409.30,518.30 411.80,519.40 448.10,519.40 448.10,524.40 459.60,524.40 459.60,531.50 489.60,531.50" fill="none" stroke="#303030" stroke-width="1.35" stroke-linejoin="miter" stroke-linecap="butt" stroke-dasharray="3.7 3.3" stroke-dashoffset="0.60"/>
<text x="450.40" y="521.60" font-size="6.0" font-weight="normal" text-anchor="start" fill="#222" stroke="#2a2a2a" stroke-width="0.18">TCE4-permissive (n=43)</text>
<text x="438.40" y="540.65" font-size="6.0" font-weight="normal" text-anchor="start" fill="#222" stroke="#2a2a2a" stroke-width="0.18">TCE4-non-permissive (n=94)</text>
</svg>
</body></html>
